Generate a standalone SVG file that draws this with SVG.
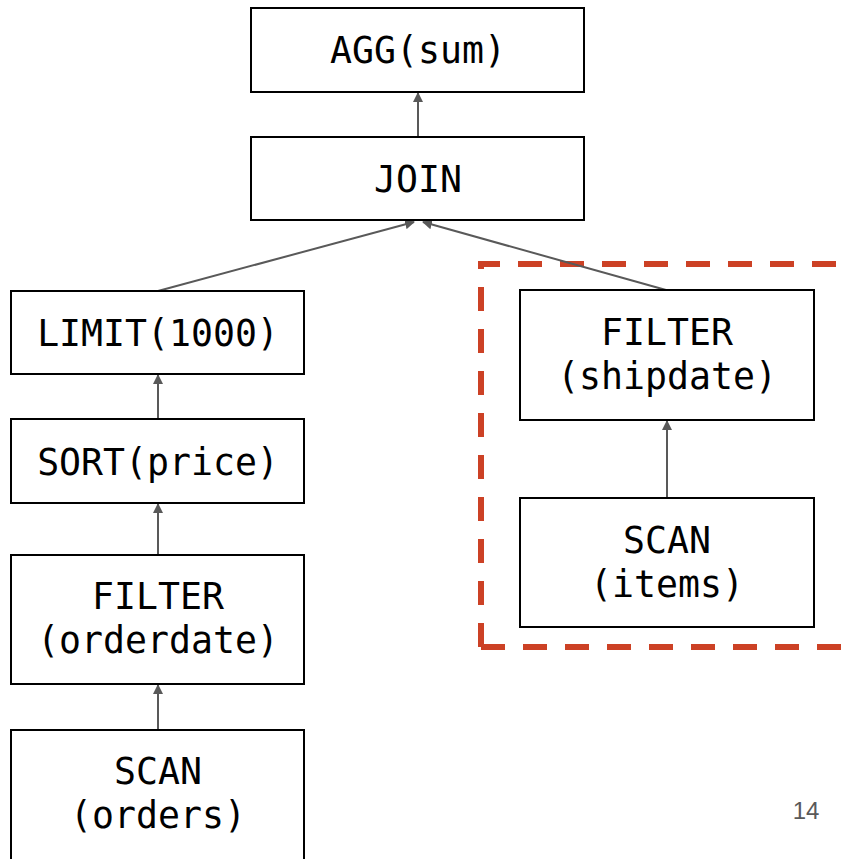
<svg xmlns="http://www.w3.org/2000/svg" width="842" height="859" viewBox="0 0 842 859">
<style>
.box{fill:#fff;stroke:#000;stroke-width:2}
.t{font-family:"DejaVu Sans Mono","Liberation Mono",monospace;font-size:36.5px;fill:#000;text-anchor:middle}
.c{stroke:#595959;stroke-width:2;fill:none;marker-end:url(#ah)}
</style>
<defs>
<marker id="ah" viewBox="0 0 10 10" refX="9" refY="5" markerWidth="5" markerHeight="5" orient="auto" markerUnits="strokeWidth">
<path d="M0,0 L10,5 L0,10 z" fill="#595959"/>
</marker>
</defs>
<rect width="842" height="859" fill="#fff"/>
<path d="M481,647 L481,264 L842,264 M481,647 L842,647" fill="none" stroke="#cc4125" stroke-width="6" stroke-dasharray="24 18"/>
<g id="connectors">
<line class="c" x1="418" y1="137" x2="418" y2="93"/>
<line class="c" x1="158" y1="291" x2="414" y2="222"/>
<line class="c" x1="666" y1="290" x2="423" y2="222"/>
<line class="c" x1="158" y1="419" x2="158" y2="375"/>
<line class="c" x1="158" y1="555" x2="158" y2="504"/>
<line class="c" x1="158" y1="730" x2="158" y2="685"/>
<line class="c" x1="667" y1="498" x2="667" y2="421"/>
</g>
<g id="agg"><rect class="box" x="251" y="8" width="333" height="84"/><text class="t" x="418" y="63">AGG(sum)</text></g>
<g id="join"><rect class="box" x="251" y="137" width="333" height="83"/><text class="t" x="418" y="192">JOIN</text></g>
<g id="limit"><rect class="box" x="11" y="291" width="293" height="83"/><text class="t" x="158" y="346">LIMIT(1000)</text></g>
<g id="sort"><rect class="box" x="11" y="419" width="293" height="84"/><text class="t" x="158" y="475">SORT(price)</text></g>
<g id="filter-orderdate"><rect class="box" x="11" y="555" width="293" height="129"/><text class="t" x="158" y="609">FILTER</text><text class="t" x="158" y="653">(orderdate)</text></g>
<g id="scan-orders"><rect class="box" x="11" y="730" width="293" height="140"/><text class="t" x="158" y="784">SCAN</text><text class="t" x="158" y="828">(orders)</text></g>
<g id="filter-shipdate"><rect class="box" x="520" y="290" width="294" height="130"/><text class="t" x="667" y="345">FILTER</text><text class="t" x="667" y="389">(shipdate)</text></g>
<g id="scan-items"><rect class="box" x="520" y="498" width="294" height="129"/><text class="t" x="667" y="553">SCAN</text><text class="t" x="667" y="597">(items)</text></g>
<text x="806" y="819" font-family="Liberation Sans,Arial,sans-serif" font-size="24" fill="#595959" text-anchor="middle">14</text>
</svg>
